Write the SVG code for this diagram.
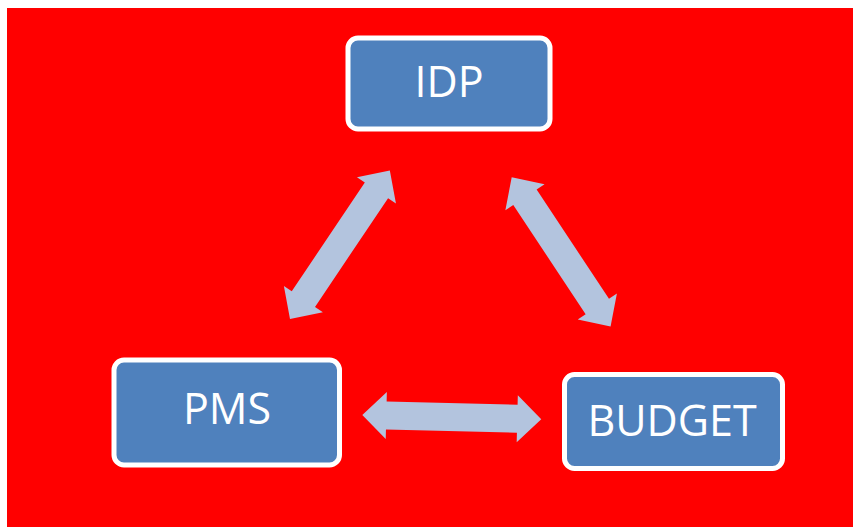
<svg xmlns="http://www.w3.org/2000/svg" xmlns:xlink="http://www.w3.org/1999/xlink" width="853" height="527" viewBox="0 0 853 527">
  <style>
    .box { fill: #4F81BD; stroke: #FFFFFF; stroke-width: 5; }
    .label { fill: #FFFFFF; font-family: "Open Sans", "Noto Sans", "Liberation Sans", sans-serif; font-size: 43px; text-anchor: middle; }
    .arrow { fill: #B3C4DE; }
  </style>
  <defs>
    <polygon id="dblArrow" points="0,0 24,-23.5 24,-14 155,-14 155,-23.5 179,0 155,23.5 155,14 24,14 24,23.5"/>
  </defs>
  <rect x="0" y="0" width="853" height="527" fill="#FFFFFF"/>
  <rect x="7" y="8" width="846" height="519" fill="#FF0000"/>
  <g id="connectors" class="arrow">
    <use xlink:href="#dblArrow" transform="translate(290,319) rotate(-56.1)"/>
    <use xlink:href="#dblArrow" transform="translate(511.7,177.3) rotate(56.47)"/>
    <use xlink:href="#dblArrow" transform="translate(362.3,415) rotate(1.38)"/>
  </g>
  <g id="node-idp">
    <rect class="box" x="348" y="38" width="202" height="91" rx="10"/>
    <text class="label" x="449" y="97">IDP</text>
  </g>
  <g id="node-pms">
    <rect class="box" x="114" y="360" width="225.5" height="105" rx="10"/>
    <text class="label" x="227" y="424">PMS</text>
  </g>
  <g id="node-budget">
    <rect class="box" x="564.5" y="374.5" width="218" height="94" rx="10"/>
    <text class="label" x="672" y="436">BUDGET</text>
  </g>
</svg>
